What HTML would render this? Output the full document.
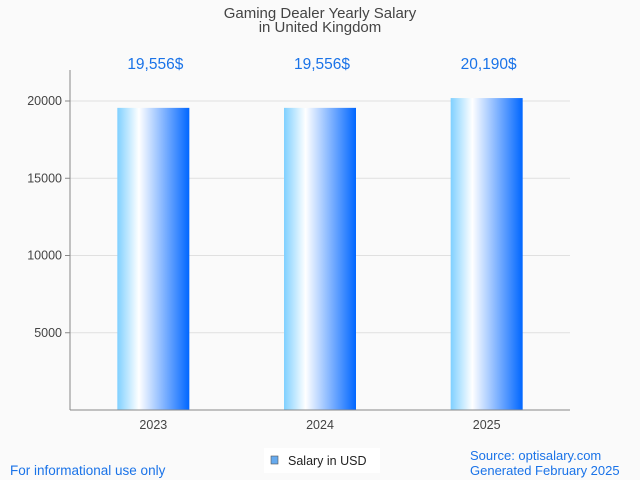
<!DOCTYPE html>
<html><head><meta charset="utf-8"><style>
body{margin:0;background:#fafafa;font-family:"Liberation Sans",sans-serif}
svg{display:block}
</style></head><body>
<svg id="c" width="640" height="480">
<defs><linearGradient id="g" x1="0" x2="1" y1="0" y2="0">
<stop offset="0" stop-color="#7fd0ff"/><stop offset="0.3" stop-color="#ffffff"/><stop offset="1" stop-color="#0066ff"/>
</linearGradient></defs>
<text x="320" y="18" text-anchor="middle" font-size="15" fill="#444">Gaming Dealer Yearly Salary</text>
<text x="320" y="32" text-anchor="middle" font-size="15" fill="#444">in United Kingdom</text>
<g id="plot"></g>
<rect x="264" y="448" width="116" height="25" fill="#fff"/>
<rect x="271" y="456" width="7" height="8" fill="#66aaee" stroke="#555" stroke-width="0.6"/>
<text x="288" y="465" font-size="12.5" fill="#222">Salary in USD</text>
<text x="10" y="475" font-size="13.5" fill="#1a73e8">For informational use only</text>
<text x="470" y="460" font-size="13" fill="#1a73e8">Source: optisalary.com</text>
<text x="470" y="475" font-size="13" fill="#1a73e8">Generated February 2025</text>
</svg>
<script>
const categories=["2023","2024","2025"];
const values=[19556,19556,20190];
const valueLabels=["19,556$","19,556$","20,190$"];
const yTicks=[5000,10000,15000,20000];
const NS="http://www.w3.org/2000/svg";
const p=document.getElementById("plot");
const x0=70,x1=570,yb=410,pxPer=309/20000;
const y=v=>yb-v*pxPer;
const band=(x1-x0)/categories.length;
const xc=i=>x0+band*(i+0.5);
function mk(t,a){const e=document.createElementNS(NS,t);for(const k in a)e.setAttribute(k,a[k]);p.appendChild(e);return e;}
yTicks.forEach(v=>{
  const l=mk("line",{x1:x0,x2:x1,y1:y(v),y2:y(v),stroke:"#e0e0e0"});
  
  
  mk("line",{x1:x0-5,x2:x0,y1:y(v),y2:y(v),stroke:"#888"});
  const t=mk("text",{x:x0-8,y:y(v)+4,"text-anchor":"end","font-size":"12.5",fill:"#444"});
  t.textContent=v;
  
  
});
categories.forEach((c,i)=>{
  const w=72;
  const r=mk("rect",{x:xc(i)-w/2,y:y(values[i]),width:w,height:yb-y(values[i]),fill:"url(#g)"});
  
  
  const t=mk("text",{x:xc(i)+2,y:69,"text-anchor":"middle","font-size":"15.5",fill:"#1a73e8"});
  t.textContent=valueLabels[i];
  
  
  const xl=mk("text",{x:xc(i),y:429,"text-anchor":"middle","font-size":"12.5",fill:"#444"});
  xl.textContent=c;
  
  
});
const ax=mk("line",{x1:x0,x2:x0,y1:70,y2:yb,stroke:"#888"});


const bx=mk("line",{x1:x0,x2:x1,y1:yb,y2:yb,stroke:"#888"});


</script>
</body></html>
